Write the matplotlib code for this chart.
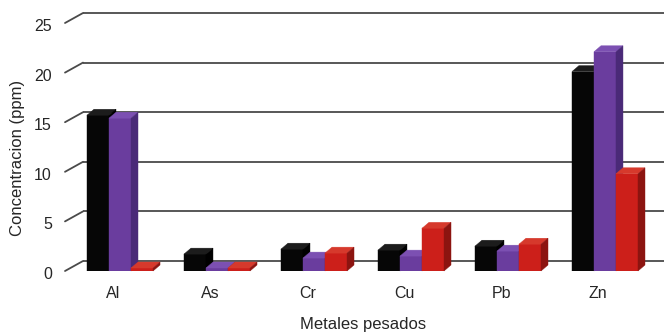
import matplotlib
matplotlib.use("Agg")
import matplotlib.pyplot as plt
import matplotlib.transforms as mtransforms
from matplotlib.patches import Polygon, ConnectionPatch

# Heavy-metal concentrations (ppm), three sample series per metal
metales = ["Al", "As", "Cr", "Cu", "Pb", "Zn"]
serie_negra = [15.7, 1.7, 2.2, 2.1, 2.5, 20.1]
serie_morada = [15.4, 0.3, 1.3, 1.5, 2.0, 22.1]
serie_roja = [0.3, 0.3, 1.8, 4.3, 2.7, 9.8]
y_ticks = [0, 5, 10, 15, 20, 25]

plt.rcParams["font.family"] = ["Liberation Sans", "DejaVu Sans"]

W, H, DPI = 664, 335, 100
fig = plt.figure(figsize=(W / DPI, H / DPI), dpi=DPI)
fig.patch.set_facecolor("white")

# front plane of the pseudo-3D plot, in pixels
left, right, bottom, top = 65, 646, 271, 23
ax = fig.add_axes([left / W, 1 - bottom / H, (right - left) / W, (bottom - top) / H])
ax.set_xlim(-0.567, 5.423)
ax.set_ylim(0, 25)
ax.set_facecolor("none")
for s in ax.spines.values():
    s.set_visible(False)

grid_c = "#4a4a4a"
wall_shift = mtransforms.Affine2D().translate(18, 10)
back = ax.get_yaxis_transform() + wall_shift
for v in y_ticks:
    ax.plot([0, 1], [v, v], transform=back, color=grid_c, lw=1.3,
            clip_on=False, zorder=0, solid_capstyle="butt")
    con = ConnectionPatch(xyA=(0, v), coordsA=ax.get_yaxis_transform(),
                          xyB=(0, v), coordsB=back, color=grid_c, lw=1.3)
    fig.add_artist(con)

# bar depth in data units (7 px right, 6 px up)
p0 = ax.transData.transform((0, 0))
dd = ax.transData.inverted().transform(p0 + [7, 6])
ddx, ddy = dd[0], dd[1]

w = 0.227
series = [
    (serie_negra, "#060606", "#1c1c1c", "#000000"),
    (serie_morada, "#6a3d9e", "#7c50b2", "#4a2a78"),
    (serie_roja, "#cc1f1a", "#d6392c", "#8c1410"),
]

for i in range(len(metales)):
    for j, (vals, c_front, c_top, c_side) in enumerate(series):
        h = vals[i]
        xc = i + (j - 1) * w
        x0, x1 = xc - w / 2, xc + w / 2
        z = 2 + i * 3 + j
        ax.bar(xc, h, w, color=c_front, edgecolor=c_front, lw=0.3, zorder=z)
        ax.add_patch(Polygon([(x0, h), (x1, h), (x1 + ddx, h + ddy), (x0 + ddx, h + ddy)],
                             closed=True, facecolor=c_top, edgecolor=c_top, lw=0.3,
                             zorder=z, clip_on=False))
        ax.add_patch(Polygon([(x1, 0), (x1 + ddx, ddy), (x1 + ddx, h + ddy), (x1, h)],
                             closed=True, facecolor=c_side, edgecolor=c_side, lw=0.3,
                             zorder=z, clip_on=False))

txt_c = "#262626"
ax.set_yticks(y_ticks)
ax.set_yticklabels([str(v) for v in y_ticks], fontsize=11.5, color=txt_c)
ax.tick_params(axis="y", length=0, pad=9.4)
for lab in ax.get_yticklabels():
    lab.set_transform(lab.get_transform() + mtransforms.Affine2D().translate(0, -2))
ax.set_xticks([i - 0.07 for i in range(len(metales))])
ax.set_xticklabels(metales, fontsize=11.5, color=txt_c)
ax.tick_params(axis="x", length=0, pad=10.5)

fig.text(18 / W, 1 - 158 / H, "Concentracion (ppm)", rotation=90,
         ha="center", va="center", fontsize=12, color=txt_c)
fig.text(363 / W, 1 - 325 / H, "Metales pesados",
         ha="center", va="center", fontsize=12, color=txt_c)

fig.savefig("out.png", dpi=DPI, facecolor="white")
